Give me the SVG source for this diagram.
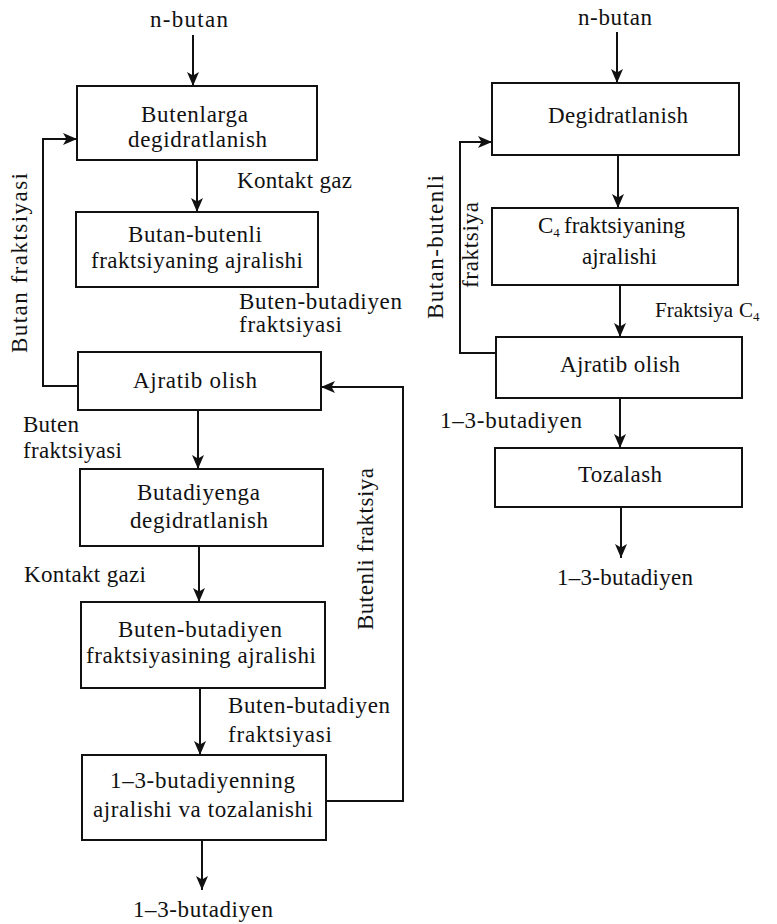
<svg xmlns="http://www.w3.org/2000/svg" width="777" height="924" viewBox="0 0 777 924">
<style>
.box{fill:#fff;stroke:#111;stroke-width:2;}
.ln{fill:none;stroke:#111;stroke-width:2;}
.ar{marker-end:url(#ah);}
</style>
<defs>
<marker id="ah" markerWidth="16" markerHeight="14" refX="15" refY="7" orient="auto" markerUnits="userSpaceOnUse">
<path d="M15,7 L1,1 L4.5,7 L1,13 Z" fill="#111"/>
</marker>
</defs>
<rect width="777" height="924" fill="#fff"/>

<g id="connectors">
<path class="ln ar" d="M193,35 V86"/>
<path class="ln ar" d="M197,160 V212"/>
<path class="ln ar" d="M78,386 H43 V139 H77"/>
<path class="ln ar" d="M198,410 V469"/>
<path class="ln ar" d="M199,546 V602"/>
<path class="ln ar" d="M200,688 V755"/>
<path class="ln ar" d="M326,801 H403 V387 H321"/>
<path class="ln ar" d="M202,840 V890"/>
<path class="ln ar" d="M617,32 V83"/>
<path class="ln ar" d="M618,155 V208"/>
<path class="ln ar" d="M620,285 V337"/>
<path class="ln ar" d="M496,353 H460 V142 H492"/>
<path class="ln ar" d="M620,398 V448"/>
<path class="ln ar" d="M621,507 V558"/>
</g>

<g font-family="'Liberation Serif', 'Times New Roman', serif" font-size="23" fill="#111">
<g id="labels">
<text x="150" y="27" textLength="78" lengthAdjust="spacing">n-butan</text>
<text x="237" y="188" textLength="115" lengthAdjust="spacing">Kontakt gaz</text>
<text x="239" y="309" textLength="163" lengthAdjust="spacing">Buten-butadiyen</text>
<text x="239" y="332" textLength="103" lengthAdjust="spacing">fraktsiyasi</text>
<text x="23" y="432" textLength="56" lengthAdjust="spacing">Buten</text>
<text x="23" y="458" textLength="99" lengthAdjust="spacing">fraktsiyasi</text>
<text x="24" y="582" textLength="122" lengthAdjust="spacing">Kontakt gazi</text>
<text x="228" y="713" textLength="162" lengthAdjust="spacing">Buten-butadiyen</text>
<text x="228" y="742" textLength="104" lengthAdjust="spacing">fraktsiyasi</text>
<text x="133" y="917" textLength="140" lengthAdjust="spacing">1–3-butadiyen</text>
<text transform="translate(27,353) rotate(-90)" textLength="180" lengthAdjust="spacing">Butan  fraktsiyasi</text>
<text transform="translate(373,630) rotate(-90)" textLength="162" lengthAdjust="spacing">Butenli fraktsiya</text>
<text x="578" y="25" textLength="74" lengthAdjust="spacing">n-butan</text>
<text x="655" y="317" font-size="21">Fraktsiya <tspan x="739">C</tspan><tspan font-size="13" dy="4">4</tspan></text>
<text x="440" y="428" textLength="142" lengthAdjust="spacing">1–3-butadiyen</text>
<text x="557" y="585" textLength="136" lengthAdjust="spacing">1–3-butadiyen</text>
<text transform="translate(443,319) rotate(-90)" textLength="144" lengthAdjust="spacing">Butan-butenli</text>
<text transform="translate(478,288) rotate(-90)" textLength="86" lengthAdjust="spacing">fraktsiya</text>
</g>

<g id="n1">
<rect class="box" x="77" y="86" width="240" height="74"/>
<text x="141" y="122" textLength="107" lengthAdjust="spacing">Butenlarga</text>
<text x="128" y="147" textLength="139" lengthAdjust="spacing">degidratlanish</text>
</g>
<g id="n2">
<rect class="box" x="76" y="212" width="242" height="75"/>
<text x="128" y="242" textLength="134" lengthAdjust="spacing">Butan-butenli</text>
<text x="91" y="268" textLength="212" lengthAdjust="spacing">fraktsiyaning ajralishi</text>
</g>
<g id="n3">
<rect class="box" x="78" y="352" width="243" height="58"/>
<text x="133" y="388" textLength="124" lengthAdjust="spacing">Ajratib olish</text>
</g>
<g id="n4">
<rect class="box" x="80" y="469" width="243" height="77"/>
<text x="137" y="500" textLength="123" lengthAdjust="spacing">Butadiyenga</text>
<text x="130" y="528" textLength="138" lengthAdjust="spacing">degidratlanish</text>
</g>
<g id="n5">
<rect class="box" x="81" y="602" width="244" height="86"/>
<text x="118" y="637" textLength="164" lengthAdjust="spacing">Buten-butadiyen</text>
<text x="86" y="663" textLength="230" lengthAdjust="spacing">fraktsiyasining ajralishi</text>
</g>
<g id="n6">
<rect class="box" x="82" y="755" width="244" height="85"/>
<text x="110" y="788" textLength="185" lengthAdjust="spacing">1–3-butadiyenning</text>
<text x="93" y="817" textLength="220" lengthAdjust="spacing">ajralishi va tozalanishi</text>
</g>
<g id="n7">
<rect class="box" x="492" y="83" width="247" height="72"/>
<text x="548" y="123" textLength="140" lengthAdjust="spacing">Degidratlanish</text>
</g>
<g id="n8">
<rect class="box" x="492" y="208" width="246" height="77"/>
<text x="538" y="233">C<tspan font-size="13" dy="4">4</tspan> <tspan x="564" dy="-4">fraktsiyaning</tspan></text>
<text x="582" y="264" textLength="75" lengthAdjust="spacing">ajralishi</text>
</g>
<g id="n9">
<rect class="box" x="496" y="337" width="246" height="61"/>
<text x="560" y="372" textLength="120" lengthAdjust="spacing">Ajratib olish</text>
</g>
<g id="n10">
<rect class="box" x="495" y="448" width="247" height="59"/>
<text x="578" y="482" textLength="84" lengthAdjust="spacing">Tozalash</text>
</g>
</g>
</svg>
